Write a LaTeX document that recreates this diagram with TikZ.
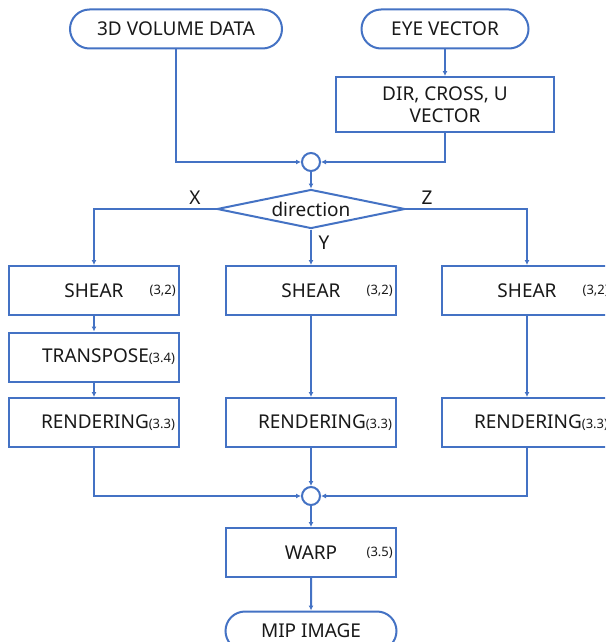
\documentclass[tikz,border=0pt]{standalone}
\usepackage{fontspec}
\setmainfont{Noto Sans}
\usetikzlibrary{shapes.geometric,shapes.misc,arrows.meta}
\definecolor{flowblue}{RGB}{68,114,196}
\definecolor{ink}{RGB}{25,25,25}
\newcommand{\tagfont}{\fontsize{13}{15}\selectfont}

\begin{document}
\begin{tikzpicture}[x=1pt,y=-1pt,
  every node/.style={text=ink,font=\fontsize{19}{22}\selectfont},
  terminal/.style={rounded rectangle,draw=flowblue,line width=2,minimum height=39,inner sep=0},
  stepbox/.style={rectangle,draw=flowblue,line width=2,minimum width=170,minimum height=49,inner xsep=4},
  rightbox/.style={stepbox,text width=162,align=right},
  joint/.style={circle,draw=flowblue,line width=2,fill=white,minimum size=18,inner sep=0},
  choice/.style={diamond,draw=flowblue,line width=2,aspect=5,minimum width=188,minimum height=39,inner sep=0},
  tag/.style={font=\tagfont,inner sep=0},
  flow/.style={draw=flowblue,line width=2,-{Latex[length=5pt,width=5pt]}}]

\useasboundingbox (0,0) rectangle (605,642);
\clip (0,0) rectangle (605,642);
\fill[white] (0,0) rectangle (605,642);

% inputs
\node[terminal,minimum width=212] (vol) at (176,29) {3D VOLUME DATA};
\node[terminal,minimum width=167] (eye) at (445,29) {EYE VECTOR};
\node[stepbox,minimum width=218,minimum height=55,align=center] (dir) at (445,104.5) {DIR, CROSS, U\\VECTOR};
\node[joint] (j1) at (311,162) {};
\node[choice] (dia) at (311,209) {direction};

% three branches
\node[stepbox] (shx) at (94,290.5) {SHEAR};
\node[stepbox] (shy) at (311,290.5) {SHEAR};
\node[stepbox] (shz) at (527,290.5) {SHEAR};
\foreach \n in {shx,shy,shz}
  \node[tag,anchor=east] (\n t) at ([xshift=-4]\n.east) {(3,2)};
\node[rightbox] (trx) at (94,357) {TRANSPOSE{\tagfont(3.4)}};
\node[rightbox] (rex) at (94,422.5) {RENDERING{\tagfont(3.3)}};
\node[rightbox] (rey) at (311,422.5) {RENDERING{\tagfont(3.3)}};
\node[rightbox] (rez) at (527,422.5) {RENDERING{\tagfont(3.3)}};

% output
\node[joint] (j2) at (311,496) {};
\node[stepbox] (warp) at (311,552.5) {WARP};
\node[tag,anchor=east] (warpt) at ([xshift=-4]warp.east) {(3.5)};
\node[terminal,minimum width=171] (mip) at (311,631) {MIP IMAGE};

\node (lx) at (195,198) {X};
\node (lz) at (427,198) {Z};
\node (ly) at (324,243) {Y};

\draw[flow] (vol) |- (j1);
\draw[flow] (eye) -- (dir);
\draw[flow] (dir) |- (j1);
\draw[flow] (j1) -- (dia);
\draw[flow] (dia.west) -| (shx);
\draw[flow] (dia) -- (shy);
\draw[flow] (dia.east) -| (shz);
\draw[flow] (shx) -- (trx);
\draw[flow] (trx) -- (rex);
\draw[flow] (shy) -- (rey);
\draw[flow] (shz) -- (rez);
\draw[flow] (rex) |- (j2);
\draw[flow] (rey) -- (j2);
\draw[flow] (rez) |- (j2);
\draw[flow] (j2) -- (warp);
\draw[flow] (warp) -- (mip);

\end{tikzpicture}
\end{document}
